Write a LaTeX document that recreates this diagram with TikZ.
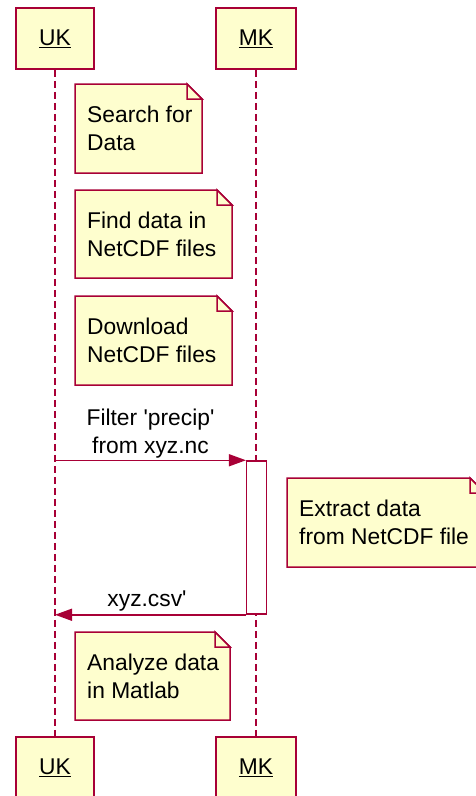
\documentclass[tikz,border=0pt]{standalone}
\usepackage{fontspec}
\setmainfont{Liberation Sans}
\usetikzlibrary{arrows.meta}
\definecolor{umlred}{HTML}{A80036}
\definecolor{umlfill}{HTML}{FEFECE}
\newcommand\umlfont{\fontsize{22.8}{28}\selectfont}
\tikzset{
  actorbox/.style={draw=umlred, fill=umlfill, line width=1.7pt, minimum height=61pt,
    inner sep=0pt, text height=16pt, text depth=1.6pt, font=\umlfont},
  lifeline/.style={draw=umlred, line width=1.5pt, dash pattern=on 7pt off 4pt},
  notebox/.style={draw=umlred, fill=umlfill, line width=1.5pt, line join=miter},
  notetext/.style={anchor=base west, inner sep=0pt, font=\umlfont},
  msgtext/.style={anchor=base, inner sep=0pt, font=\umlfont},
  msg/.style={draw=umlred, line width=1.5pt, -{Triangle[length=17pt,width=12pt]}},
  activation/.style={draw=umlred, fill=white, line width=1.5pt, inner sep=0pt}
}
% note with folded corner: name, x1, y1, x2, y2, first line, second line
\newcommand\umlnote[7]{%
  \path[notebox] (#2,#3) -- (#4-15,#3) -- (#4,#3+15) -- (#4,#5) -- (#2,#5) -- cycle;
  \path[notebox] (#4-15,#3) -- (#4-15,#3+15) -- (#4,#3+15) -- cycle;
  \node[notetext] (#1a) at (#2+12,#3+38) {#6};
  \node[notetext] (#1b) at (#2+12,#3+66.5) {#7};
}
% underlined participant name
\newcommand\actorlabel[1]{\underline{#1}}
\begin{document}
\begin{tikzpicture}[x=1pt,y=-1pt]
\useasboundingbox (0,0) rectangle (476,796);

% participants, top and bottom
\node[actorbox, minimum width=78pt] (ukT) at (55,38.5) {\actorlabel{UK}};
\node[actorbox, minimum width=80pt] (mkT) at (256,38.5) {\actorlabel{MK}};
\node[actorbox, minimum width=78pt] (ukB) at (55,767.5) {\actorlabel{UK}};
\node[actorbox, minimum width=80pt] (mkB) at (256,767.5) {\actorlabel{MK}};

% lifelines
\draw[lifeline] (ukT.south) -- (ukB.north);
\draw[lifeline] (mkT.south) -- (mkB.north);

% notes on the UK side
\umlnote{search}{75}{84}{202}{173}{Search for}{Data}
\umlnote{find}{75}{190}{232}{278}{Find data in}{NetCDF files}
\umlnote{down}{75}{296}{232}{385}{Download}{NetCDF files}

% activation of MK
\node[activation, minimum width=20pt, minimum height=153pt] (act) at (256.7,537.5) {};

% request
\node[msgtext] (req1) at (150.5,425) {Filter {\textquotesingle}precip{\textquotesingle}};
\node[msgtext] (req2) at (150.5,453.3) {from xyz.nc};
\draw[msg] (act.north west -| ukT.center) -- (act.north west);

% note right of MK
\umlnote{extract}{287}{478}{485}{567}{Extract data}{from NetCDF file}

% reply
\node[msgtext] (rep) at (147,606.7) {xyz.csv{\textquotesingle}};
\draw[msg] (act.south west) -- (act.south west -| ukT.center);

% final note
\umlnote{analyze}{75}{632}{230}{720}{Analyze data}{in Matlab}
\end{tikzpicture}
\end{document}
